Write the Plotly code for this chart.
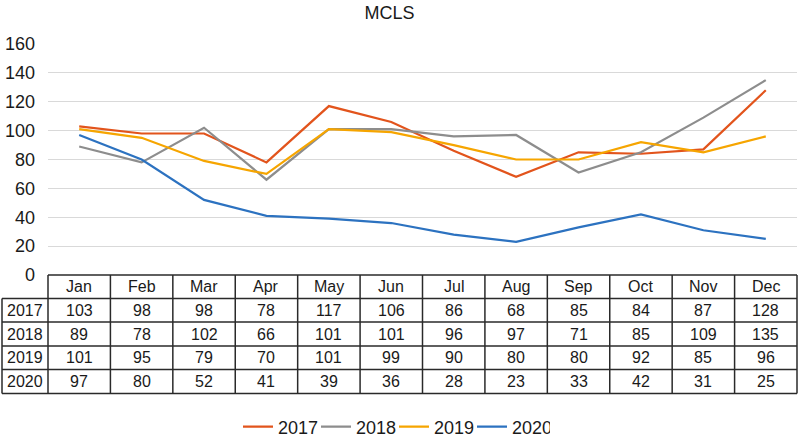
import plotly.graph_objects as go

months = ["Jan", "Feb", "Mar", "Apr", "May", "Jun", "Jul", "Aug", "Sep", "Oct", "Nov", "Dec"]
years = ["2017", "2018", "2019", "2020"]
v2017 = [103, 98, 98, 78, 117, 106, 86, 68, 85, 84, 87, 128]
v2018 = [89, 78, 102, 66, 101, 101, 96, 97, 71, 85, 109, 135]
v2019 = [101, 95, 79, 70, 101, 99, 90, 80, 80, 92, 85, 96]
v2020 = [97, 80, 52, 41, 39, 36, 28, 23, 33, 42, 31, 25]
series = [v2017, v2018, v2019, v2020]
colors = ["#E2541C", "#8D8D8D", "#F6A500", "#2C72C0"]
y_ticks = [0, 20, 40, 60, 80, 100, 120, 140, 160]

W, H = 799, 437
L, R, T, B = 48, 797, 44, 275
FONT = "Liberation Sans, Arial, Helvetica, sans-serif"
TXT = "#1a1a1a"
BORDER = "#2a2a2a"

def px_x(p):
    return (p - L) / (R - L)

def px_y(p):
    return (B - p) / (B - T)

fig = go.Figure()
for yr, vals, c in zip(years, series, colors):
    fig.add_trace(go.Scatter(x=months, y=vals, name=yr, mode="lines",
                             line=dict(color=c, width=2.2)))

# Table geometry (pixels)
row_edges = [275, 298.5, 322, 346, 369.5, 393.5]
ncol = len(months)
colw = (R - L) / ncol
col_edges = [L + i * colw for i in range(ncol + 1)]
yr_left = 2

shapes = []
lw = 1.5
shapes.append(dict(type="line", xref="paper", yref="paper",
                   x0=px_x(L), x1=px_x(R), y0=px_y(row_edges[0]), y1=px_y(row_edges[0]),
                   line=dict(color=BORDER, width=lw)))
for re in row_edges[1:]:
    shapes.append(dict(type="line", xref="paper", yref="paper",
                       x0=px_x(yr_left), x1=px_x(R), y0=px_y(re), y1=px_y(re),
                       line=dict(color=BORDER, width=lw)))
for ce in col_edges:
    shapes.append(dict(type="line", xref="paper", yref="paper",
                       x0=px_x(ce), x1=px_x(ce), y0=px_y(row_edges[0]), y1=px_y(row_edges[-1]),
                       line=dict(color=BORDER, width=lw)))
shapes.append(dict(type="line", xref="paper", yref="paper",
                   x0=px_x(yr_left), x1=px_x(yr_left), y0=px_y(row_edges[1]), y1=px_y(row_edges[-1]),
                   line=dict(color=BORDER, width=lw)))

annotations = []
def cell(text, cx, cy):
    annotations.append(dict(text=str(text), xref="paper", yref="paper",
                            x=px_x(cx), y=px_y(cy), showarrow=False,
                            xanchor="center", yanchor="middle",
                            font=dict(family=FONT, size=16, color=TXT)))

for i, m in enumerate(months):
    cell(m, (col_edges[i] + col_edges[i + 1]) / 2, (row_edges[0] + row_edges[1]) / 2)
for r, (yr, vals) in enumerate(zip(years, series)):
    cy = (row_edges[r + 1] + row_edges[r + 2]) / 2
    cell(yr, (yr_left + L) / 2, cy)
    for i, v in enumerate(vals):
        cell(v, (col_edges[i] + col_edges[i + 1]) / 2, cy)

fig.update_layout(
    width=W, height=H,
    margin=dict(l=L, r=W - R, t=T, b=H - B, pad=0),
    paper_bgcolor="white", plot_bgcolor="white",
    font=dict(family=FONT, size=16, color=TXT),
    title=dict(text="MCLS", x=389.5 / W, xanchor="center", xref="container",
               y=1 - 13 / H, yanchor="middle", yref="container",
               font=dict(family=FONT, size=18, color=TXT)),
    xaxis=dict(showticklabels=False, showgrid=False, zeroline=False, showline=False,
               ticks="", range=[-0.5, ncol - 0.5], fixedrange=True),
    yaxis=dict(range=[0, 160], tickvals=y_ticks, showgrid=True, gridcolor="#D9D9D9",
               gridwidth=1, zeroline=False, showline=False, ticks="",
               ticklabelstandoff=12, tickfont=dict(family=FONT, size=18, color=TXT),
               fixedrange=True),
    showlegend=True,
    legend=dict(orientation="h", xref="container", yref="container",
                x=394 / W, xanchor="center", y=(H - 427) / H, yanchor="middle",
                font=dict(family=FONT, size=18, color=TXT),
                itemwidth=30, entrywidth=33, entrywidthmode="pixels",
                traceorder="normal", bgcolor="rgba(0,0,0,0)"),
    shapes=shapes,
    annotations=annotations,
)

fig.write_html("out.html", config={"displayModeBar": False},
               post_script="document.body.style.margin='0';document.body.style.overflow='hidden';")
